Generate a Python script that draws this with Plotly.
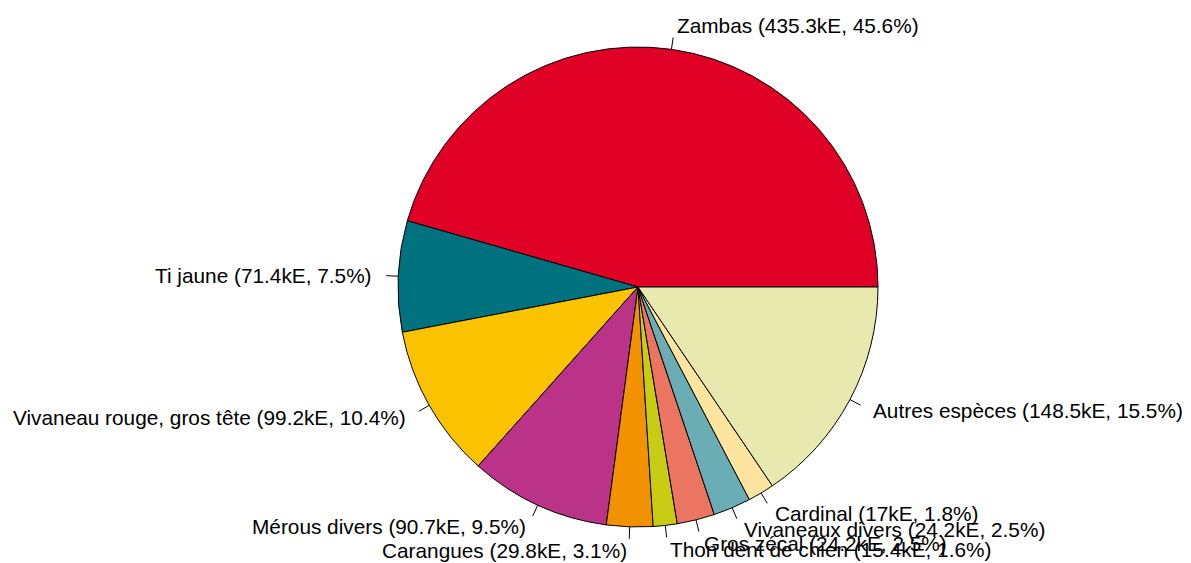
import math
import plotly.graph_objects as go

labels = ["Zambas", "Ti jaune", "Vivaneau rouge, gros tête", "Mérous divers",
          "Carangues", "Thon dent de chien", "Gros zécal", "Vivaneaux divers",
          "Cardinal", "Autres espèces"]
values_ke = [435.3, 71.4, 99.2, 90.7, 29.8, 15.4, 24.2, 24.2, 17.0, 148.5]
pct_labels = ["45.6%", "7.5%", "10.4%", "9.5%", "3.1%", "1.6%", "2.5%", "2.5%", "1.8%", "15.5%"]
value_labels = ["435.3kE", "71.4kE", "99.2kE", "90.7kE", "29.8kE", "15.4kE", "24.2kE", "24.2kE", "17kE", "148.5kE"]
colors = ["#E00025", "#00717F", "#FBC200", "#BB3388", "#F39200",
          "#C8CD14", "#EB7561", "#6AADB5", "#FDE5A0", "#E7E9AE"]

# page body has an 8px margin, so the figure is slightly smaller than the window
W, H = 1183, 555
ML, MR, MT, MB = 390, 313, 39, 36

total = sum(values_ke)
# plotly's counterclockwise mode puts the first slice clockwise of the rotation
# point; rotate so the first slice starts at 3 o'clock and runs counterclockwise
rotation = 90 - 360 * values_ke[0] / total

fig = go.Figure(go.Pie(
    labels=labels, values=values_ke, sort=False, direction="counterclockwise",
    rotation=rotation, textinfo="none", hoverinfo="label+value+percent",
    marker=dict(colors=colors, line=dict(color="#000000", width=1)),
    domain=dict(x=[0, 1], y=[0, 1]), showlegend=False,
))

cum = 0.0
annotations = []
shapes = []
for lab, v, vl, pl in zip(labels, values_ke, value_labels, pct_labels):
    mid = 2 * math.pi * (cum + v / 2) / total
    cum += v
    cx, cy = math.cos(mid), math.sin(mid)
    shapes.append(dict(type="line", xref="paper", yref="paper",
                       x0=0.5 + 0.5 * cx, y0=0.5 + 0.5 * cy,
                       x1=0.5 + 0.5 * 1.05 * cx, y1=0.5 + 0.5 * 1.05 * cy,
                       line=dict(color="#000000", width=1)))
    annotations.append(dict(xref="paper", yref="paper",
                            x=0.5 + 0.5 * 1.1 * cx, y=0.5 + 0.5 * 1.1 * cy,
                            text=f"{lab} ({vl}, {pl})", showarrow=False,
                            xanchor="right" if cx < 0 else "left", yanchor="middle",
                            font=dict(family="Liberation Sans, Arial", size=20.8, color="#000000")))

fig.update_layout(
    width=W, height=H, margin=dict(l=ML, r=MR, t=MT, b=MB),
    paper_bgcolor="white", plot_bgcolor="white",
    annotations=annotations, shapes=shapes,
)
fig.write_html("out.html")
